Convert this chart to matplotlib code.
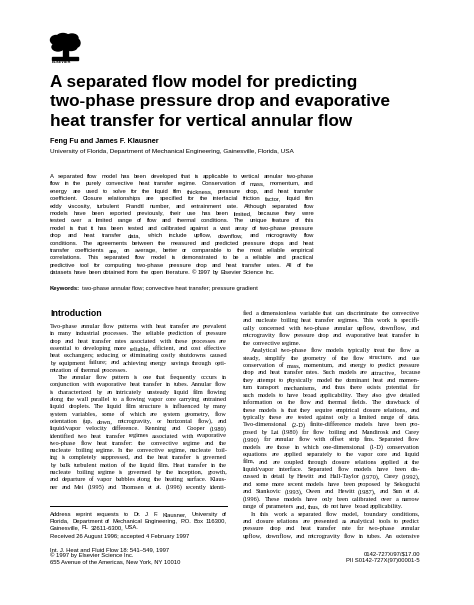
import matplotlib
matplotlib.use("Agg")
import matplotlib.pyplot as plt
from matplotlib.patches import Ellipse, Rectangle

W, H = 474, 605
fig = plt.figure(figsize=(W/100, H/100), dpi=100)
fig.patch.set_facecolor("white")
R = fig.canvas.get_renderer()

title_lines = ["A separated flow model for predicting",
               "two-phase pressure drop and evaporative",
               "heat transfer for vertical annular flow"]
authors = "Feng Fu and James F. Klausner"
affil = "University of Florida, Department of Mechanical Engineering, Gainesville, Florida, USA"

abstract = [
"A separated flow model has been developed that is applicable to vertical annular two-phase",
"flow in the purely convective heat transfer regime. Conservation of mass, momentum, and",
"energy are used to solve for the liquid film thickness, pressure drop, and heat transfer",
"coefficient. Closure relationships are specified for the interfacial friction factor, liquid film",
"eddy viscosity, turbulent Prandtl number, and entrainment rate. Although separated flow",
"models have been reported previously, their use has been limited, because they were",
"tested over a limited range of flow and thermal conditions. The unique feature of this",
"model is that it has been tested and calibrated against a vast array of two-phase pressure",
"drop and heat transfer data, which include upflow, downflow, and microgravity flow",
"conditions. The agreements between the measured and predicted pressure drops and heat",
"transfer coefficients are, on average, better or comparable to the most reliable empirical",
"correlations. This separated flow model is demonstrated to be a reliable and practical",
"predictive tool for computing two-phase pressure drop and heat transfer rates. All of the",
"datasets have been obtained from the open literature.    © 1997 by Elsevier Science Inc.",
]
keywords = "two-phase annular flow; convective heat transfer; pressure gradient"

left_col = [
"Two-phase annular flow patterns with heat transfer are prevalent",
"in many industrial processes. The reliable prediction of pressure",
"drop and heat transfer rates associated with these processes are",
"essential to developing more reliable, efficient, and cost effective",
"heat exchangers; reducing or eliminating costly shutdowns caused",
"by equipment failure; and achieving energy savings through opti-",
"mization of thermal processes.",
"   The annular flow pattern is one that frequently occurs in",
"conjunction with evaporative heat transfer in tubes. Annular flow",
"is characterized by an intricately unsteady liquid film flowing",
"along the wall parallel to a flowing vapor core carrying entrained",
"liquid droplets. The liquid film structure is influenced by many",
"system variables, some of which are system geometry, flow",
"orientation (up, down, microgravity, or horizontal flow), and",
"liquid/vapor velocity difference. Kenning and Cooper (1989)",
"identified two heat transfer regimes associated with evaporative",
"two-phase flow heat transfer: the convective regime and the",
"nucleate boiling regime. In the convective regime, nucleate boil-",
"ing is completely suppressed, and the heat transfer is governed",
"by bulk turbulent motion of the liquid film. Heat transfer in the",
"nucleate boiling regime is governed by the inception, growth,",
"and departure of vapor bubbles along the heating surface. Klaus-",
"ner and Mei (1995) and Thomsen et al. (1996) recently identi-",
]
right_col = [
"fied a dimensionless variable that can discriminate the convective",
"and nucleate boiling heat transfer regimes. This work is specifi-",
"cally concerned with two-phase annular upflow, downflow, and",
"microgravity flow pressure drop and evaporative heat transfer in",
"the convective regime.",
"   Analytical two-phase flow models typically treat the flow as",
"steady, simplify the geometry of the flow structure, and use",
"conservation of mass, momentum, and energy to predict pressure",
"drop and heat transfer rates. Such models are attractive, because",
"they attempt to physically model the dominant heat and momen-",
"tum transport mechanisms, and thus there exists potential for",
"such models to have broad applicability. They also give detailed",
"information on the flow and thermal fields. The drawback of",
"these models is that they require empirical closure relations, and",
"typically these are tested against only a limited range of data.",
"Two-dimensional (2-D) finite-difference models have been pro-",
"posed by Lai (1980) for flow boiling and Mandirosk and Carey",
"(1990) for annular flow with offset strip fins. Separated flow",
"models are those in which one-dimensional (1-D) conservation",
"equations are applied separately to the vapor core and liquid",
"film, and are coupled through closure relations applied at the",
"liquid/vapor interface. Separated flow models have been dis-",
"cussed in detail by Hewitt and Hall-Taylor (1970), Carey (1992),",
"and some more recent models have been proposed by Sekoguchi",
"and Stankovic (1993), Owen and Hewitt (1987), and Sun et al.",
"(1996). These models have only been calibrated over a narrow",
"range of parameters and, thus, do not have broad applicability.",
"   In this work a separated flow model, boundary conditions,",
"and closure relations are presented as analytical tools to predict",
"pressure drop and heat transfer rate for two-phase annular",
"upflow, downflow, and microgravity flow in tubes. An extensive",
]
footnote = [
"Address reprint requests to Dr. J. F. Klausner, University of",
"Florida, Department of Mechanical Engineering, P.O. Box 116300,",
"Gainesville, FL 32611-6300, USA.",
]
received = "Received 26 August 1996; accepted 4 February 1997"
journal = ["Int. J. Heat and Fluid Flow 18: 541–549, 1997",
           "© 1997 by Elsevier Science Inc.",
           "655 Avenue of the Americas, New York, NY 10010"]
codes = ["0142-727X/97/$17.00", "PII S0142-727X(97)00001-5"]

def put(x, y, s, **kw):
    return fig.text(x / W, 1 - y / H, s, va="baseline", **kw)

def justify(x0, x1, y, line, last=False, **kw):
    indent = 0
    if line.startswith("   "):
        indent = 8
        line = line.strip()
    words = line.split()
    arts = [put(0, y, w, **kw) for w in words]
    widths = [a.get_window_extent(R).width for a in arts]
    a1 = fig.text(0, 0, "a a", **kw); a2 = fig.text(0, 0, "aa", **kw)
    sp = a1.get_window_extent(R).width - a2.get_window_extent(R).width
    a1.remove(); a2.remove()
    if last or len(words) < 2:
        gap = sp
    else:
        gap = (x1 - x0 - indent - sum(widths)) / (len(words) - 1)
    x = x0 + indent
    for a, w in zip(arts, widths):
        a.set_x(x / W)
        x += w + gap

def block(lines, x0, x1, y0, dy, final_last=False, **kw):
    for i, l in enumerate(lines):
        nxt = lines[i + 1] if i + 1 < len(lines) else ""
        last = l.rstrip().endswith(".") and nxt.startswith("   ")
        if final_last and i == len(lines) - 1:
            last = True
        justify(x0, x1, y0 + i * dy, l, last=last, **kw)

# logo
ax = fig.add_axes([0, 0, 1, 1]); ax.set_xlim(0, W); ax.set_ylim(H, 0); ax.axis("off")
for cx, cy, w, h in [(56, 40, 11, 9), (63, 37, 12, 7), (72, 38, 12, 8), (77, 43, 6, 8),
                     (58, 47, 12, 8), (71, 47, 12, 7), (65, 43, 18, 10)]:
    ax.add_patch(Ellipse((cx, cy), w, h, color="black"))
ax.add_patch(Rectangle((63, 46), 5, 12, color="black"))
ax.add_patch(Rectangle((52, 57), 26, 2.5, color="black"))
put(52, 63, "ELSEVIER", fontsize=2.8, family="Liberation Sans", weight="bold")

tf = dict(family="Liberation Sans", weight="bold", color="black")
for i, t in enumerate(title_lines):
    put(50, 87 + i * 19.3, t, fontsize=12.3, **tf)
put(50, 143, authors, fontsize=5.2, family="Liberation Sans", weight="bold")
put(50, 153, affil, fontsize=4.6, family="Liberation Sans")

sans = dict(fontsize=4.25, family="Liberation Sans")
block(abstract, 50, 314, 178, 7.4, final_last=True, **sans)
k = put(50, 290, "Keywords:", weight="bold", **sans)
put(50 + k.get_window_extent(R).width + 2, 290, keywords, **sans)

put(50, 316, "Introduction", fontsize=6.3, family="Liberation Sans", weight="bold")
serif = dict(fontsize=4.6, family="Liberation Serif")
block(left_col, 50, 227, 328, 7.3, **serif)
block(right_col, 243, 420, 315, 7.43, **serif)

ax.plot([50, 227], [506, 506], color="black", lw=0.7)
block(footnote, 50, 227, 516, 6.6, final_last=True, **sans)
put(50, 538, received, **sans)
for i, t in enumerate(journal):
    put(50, 551 + i * 6.3, t, **sans)
for i, t in enumerate(codes):
    put(420, 556 + i * 6.3, t, ha="right", **sans)

fig.savefig("out.png", dpi=100, facecolor="white")
